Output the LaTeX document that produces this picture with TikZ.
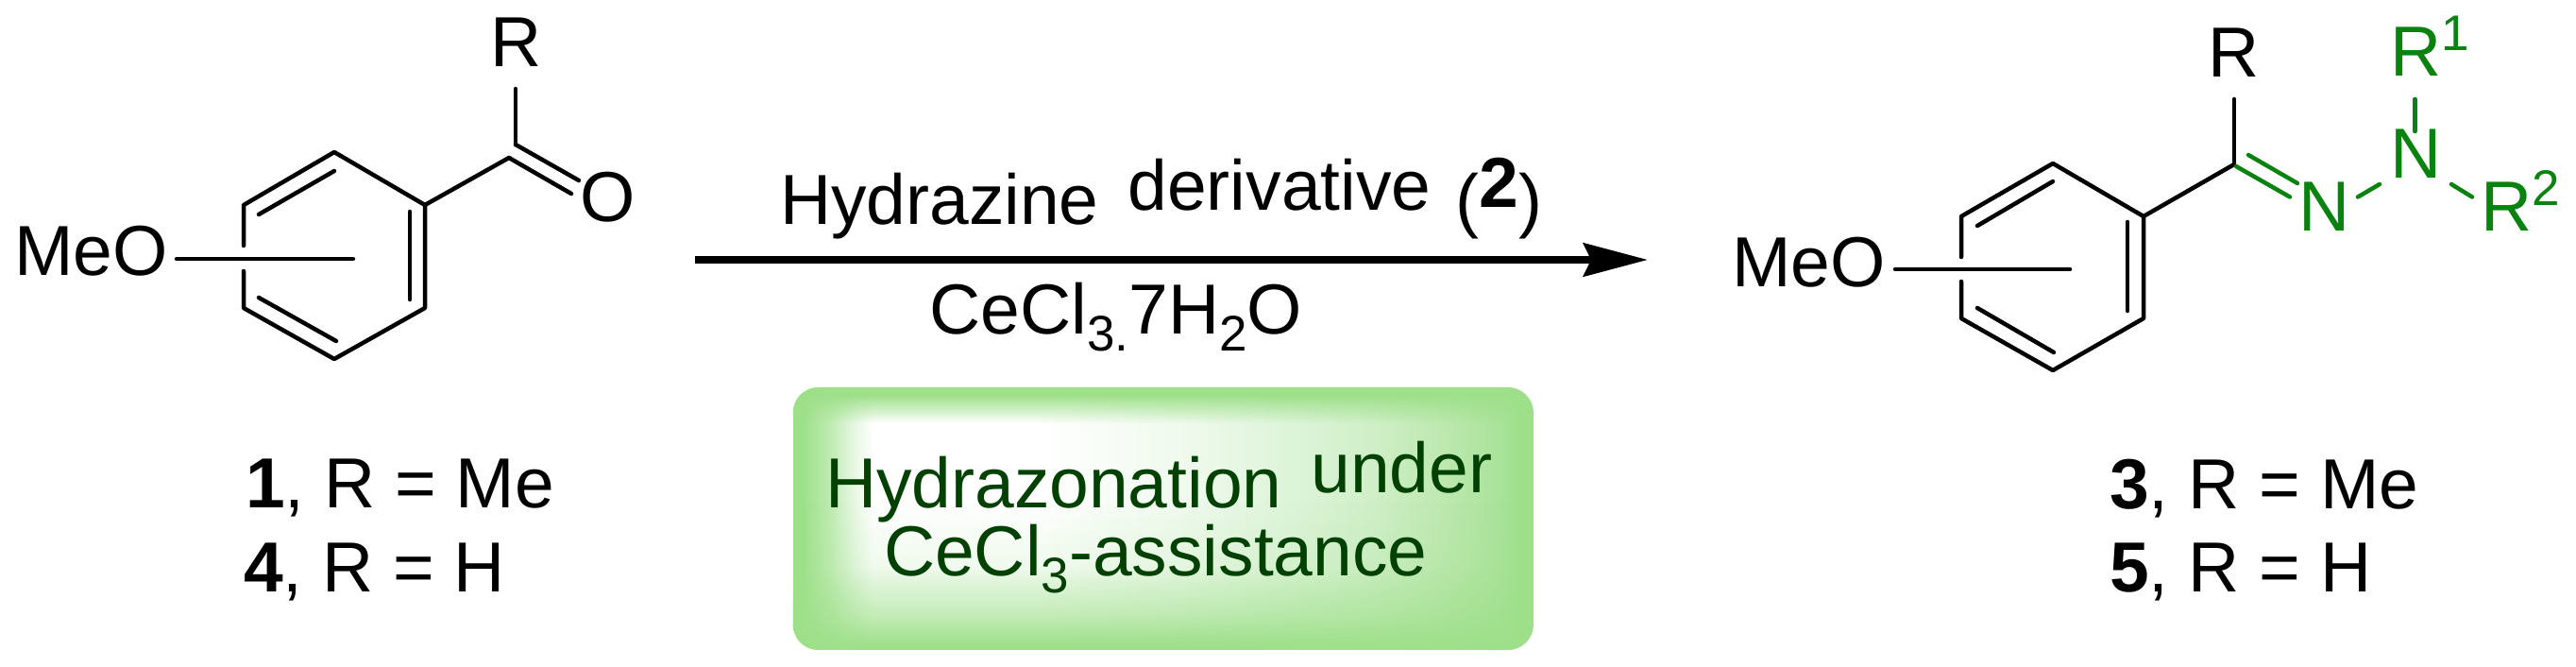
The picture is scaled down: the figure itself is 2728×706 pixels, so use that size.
\documentclass[tikz,border=0pt]{standalone}
\usepackage{fontspec}
\setmainfont{Liberation Sans}
\usetikzlibrary{arrows.meta,fadings}
\definecolor{chemgreen}{HTML}{0A820F}
\definecolor{boxtext}{HTML}{004000}
\definecolor{ga}{HTML}{9EE08A}
\definecolor{gb}{HTML}{C0EBB3}
\definecolor{gc}{HTML}{E8F7E4}
\definecolor{gd}{HTML}{F0FAEE}
\definecolor{ge}{HTML}{E0F5DC}
\definecolor{gf}{HTML}{D0EFC8}
\definecolor{gg}{HTML}{BDE8AF}
\definecolor{gh}{HTML}{A8E298}
\pgfdeclarehorizontalshading{boxh}{100bp}{color(0bp)=(ga); color(25.65bp)=(ga); color(27.5bp)=(gb); color(29.15bp)=(gc); color(30.4bp)=(white); color(41.5bp)=(white); color(51bp)=(gd); color(57.5bp)=(ge); color(64bp)=(gf); color(69bp)=(gg); color(73bp)=(gh); color(74bp)=(ga); color(100bp)=(ga)}
\pgfdeclareverticalshading{vfadeS}{100bp}{gray(0bp)=(1); gray(26bp)=(1); gray(31.85bp)=(0.6); gray(37.25bp)=(0.35); gray(41bp)=(0.15); gray(53.5bp)=(0); gray(68bp)=(0); gray(73.5bp)=(1); gray(100bp)=(1)}
\pgfdeclarefading{vfade}{\pgfuseshading{vfadeS}}
\newcommand{\bigsz}{\fontsize{75}{80}\selectfont}
\newcommand{\smallsz}{\fontsize{53}{56}\selectfont}
\newcommand{\lowtxt}[1]{\raisebox{-18pt}{\smallsz #1}}
\newcommand{\uptxt}[1]{\raisebox{27pt}{\smallsz #1}}
\tikzset{
  lab/.style={inner sep=0pt,outer sep=0pt,anchor=base west,font=\bigsz,text=black},
  glab/.style={lab,text=chemgreen},
  blab/.style={lab,text=boxtext},
  bond/.style={line width=4.5pt,line cap=round,line join=round,draw=black},
  gbond/.style={bond,draw=chemgreen},
  rxn/.style={line width=8pt,draw=black,-{Stealth[length=68pt,width=35pt,inset=8pt]}},
}
\begin{document}
\begin{tikzpicture}[x=1pt,y=-1pt]
\useasboundingbox (0,0) rectangle (2728,706);
% left molecule
\draw[bond] (258,260) -- (258,217) -- (354,161) -- (450,217) -- (450,326) -- (354,380) -- (258,326) -- (258,287);
\draw[bond] (354,181) -- (274,227);
\draw[bond] (434,224) -- (434,317);
\draw[bond] (274,315) -- (356,361);
\draw[bond] (187,274) -- (374,274);
\draw[bond] (450,217) -- (539,167);
\draw[bond] (546,94) -- (546,153);
\draw[bond] (546,153) -- (613,191);
\draw[bond] (539,167) -- (605,205);
\node[lab] (r1) at (519,70.4) {R};
\node[lab] (o1) at (614,234) {O};
\node[lab] (meo1) at (15.5,291.5) {MeO};
\node[lab] (l1) at (260,537) {\textbf{1}, R = Me};
\node[lab] (l4) at (258,626) {\textbf{4}, R = H};
% arrow
\coordinate (arrowstart) at (736,275);
\coordinate (arrowend) at (1745,275);
\draw[rxn] (arrowstart) -- (arrowend);
\node[lab] (hyd) at (826,237.5) {Hydrazine\hspace{10pt} \raisebox{15pt}{derivative}\hspace{5pt} (\raisebox{18pt}{\textbf{2}})};
\node[lab] (cat) at (984.5,353) {CeCl\lowtxt{3.}7H\lowtxt{2}O};
% box
\shade[shading=boxh,rounded corners=27pt] (840,410) rectangle (1624,688);
\fill[ga,rounded corners=27pt,path fading=vfade] (840,410) rectangle (1624,688);
\node[blab] (hz1) at (874,537) {Hydrazonation\hspace{10pt} \raisebox{16pt}{under}};
\node[blab] (hz2) at (936,609) {CeCl\lowtxt{3}-assistance};
% right molecule
\draw[bond] (2077,272) -- (2077,229) -- (2174,173) -- (2270,229) -- (2270,337) -- (2174,392) -- (2077,337) -- (2077,298);
\draw[bond] (2174,192) -- (2094,239);
\draw[bond] (2253,235) -- (2253,329);
\draw[bond] (2094,326) -- (2175,373);
\draw[bond] (2007,285) -- (2192,285);
\draw[bond] (2270,229) -- (2366,174);
\draw[bond] (2366,105) -- (2366,174);
\draw[gbond] (2368,176) -- (2425,208.5);
\draw[gbond] (2381,164) -- (2433,194);
\draw[gbond] (2497,208.5) -- (2520,195);
\draw[gbond] (2557.5,105) -- (2557.5,139);
\draw[gbond] (2596,195) -- (2618,208.5);
\node[lab] (r3) at (2338,82) {R};
\node[lab] (meo3) at (1834.5,303) {MeO};
\node[glab] (n1) at (2434.5,244) {N};
\node[glab] (n2) at (2531.5,189) {N};
\node[glab] (r31) at (2531,81) {R\uptxt{1}};
\node[glab] (r32) at (2627,244) {R\uptxt{2}};
\node[lab] (l3) at (2234,538) {\textbf{3}, R = Me};
\node[lab] (l5) at (2234,626.5) {\textbf{5}, R = H};
\end{tikzpicture}
\end{document}
